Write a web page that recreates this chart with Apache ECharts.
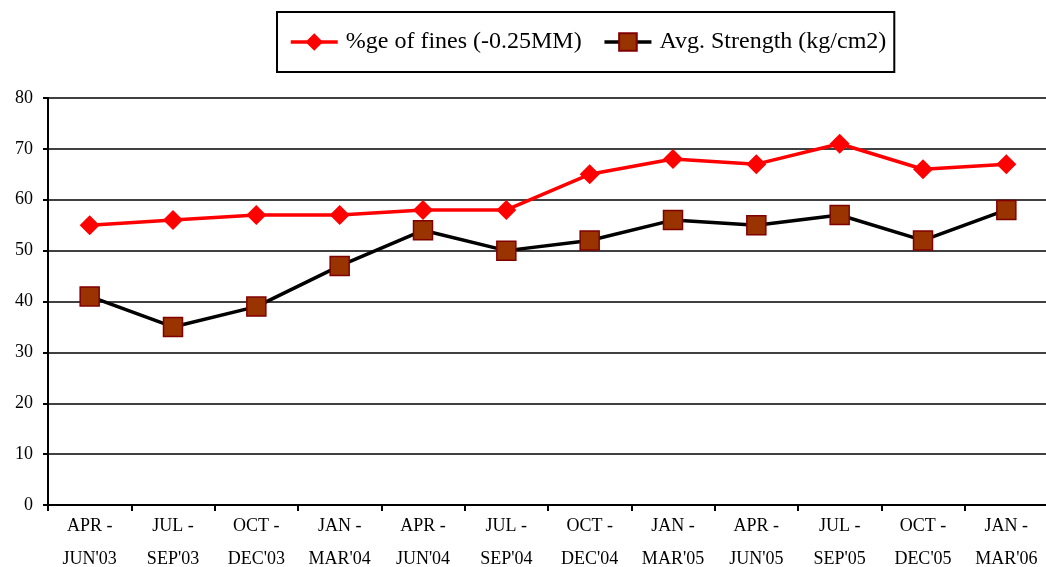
<!DOCTYPE html>
<html>
<head>
    <meta charset="UTF-8">
    <title>Fines vs Strength</title>
    <script src="https://cdn.jsdelivr.net/npm/echarts/dist/echarts.min.js"></script>
    <style>
        html, body { margin: 0; padding: 0; background: #fff; }
        #chart { width: 1046px; height: 567px; }
    </style>
</head>
<body>
    <div id="chart"></div>
    <script type="text/javascript">
        // quarters along the x axis
        var quarters = ["APR -\nJUN'03", "JUL -\nSEP'03", "OCT -\nDEC'03", "JAN -\nMAR'04",
                        "APR -\nJUN'04", "JUL -\nSEP'04", "OCT -\nDEC'04", "JAN -\nMAR'05",
                        "APR -\nJUN'05", "JUL -\nSEP'05", "OCT -\nDEC'05", "JAN -\nMAR'06"];
        var finesPct = [55, 56, 57, 57, 58, 58, 65, 68, 67, 71, 66, 67];
        var avgStrength = [41, 35, 39, 47, 54, 50, 52, 56, 55, 57, 52, 58];

        var serif = 'Liberation Serif';
        var chart = echarts.init(document.getElementById('chart'));

        chart.setOption({
            animation: false,
            legend: {
                top: 12,
                left: 277,
                padding: [18, 8, 18, 12],
                borderColor: '#000',
                borderWidth: 2,
                itemWidth: 47,
                itemHeight: 22,
                itemGap: 21,
                lineStyle: { width: 3.5 },
                textStyle: { fontFamily: serif, fontSize: 24, color: '#000', padding: [0, 0, 0, 3] },
                data: ['%ge of fines (-0.25MM)', 'Avg. Strength (kg/cm2)']
            },
            grid: { left: 48, right: -2, top: 98, bottom: 62, outerBoundsMode: 'none' },
            xAxis: {
                type: 'category',
                data: quarters,
                boundaryGap: true,
                axisLine: { lineStyle: { color: '#000', width: 2 } },
                axisTick: { show: true, interval: 0, length: 6, lineStyle: { color: '#000', width: 2 } },
                axisLabel: { interval: 0, fontFamily: serif, fontSize: 18, color: '#000', lineHeight: 33, margin: 5 }
            },
            yAxis: {
                type: 'value',
                min: 0,
                max: 80,
                interval: 10,
                axisLine: { show: true, lineStyle: { color: '#000', width: 2 } },
                axisTick: { show: true, length: 5, lineStyle: { color: '#000', width: 2 } },
                axisLabel: { fontFamily: serif, fontSize: 18, color: '#000', margin: 15 },
                splitLine: { lineStyle: { color: '#000', width: 1.5 } }
            },
            series: [
                {
                    name: '%ge of fines (-0.25MM)',
                    type: 'line',
                    data: finesPct,
                    symbol: 'diamond',
                    symbolSize: 20,
                    itemStyle: { color: '#ff0000' },
                    lineStyle: { color: '#ff0000', width: 3.5 }
                },
                {
                    name: 'Avg. Strength (kg/cm2)',
                    type: 'line',
                    data: avgStrength,
                    symbol: 'rect',
                    symbolSize: 19,
                    itemStyle: { color: '#993300', borderColor: '#800000', borderWidth: 1.5 },
                    lineStyle: { color: '#000', width: 3.5 }
                }
            ]
        });
    </script>
</body>
</html>
